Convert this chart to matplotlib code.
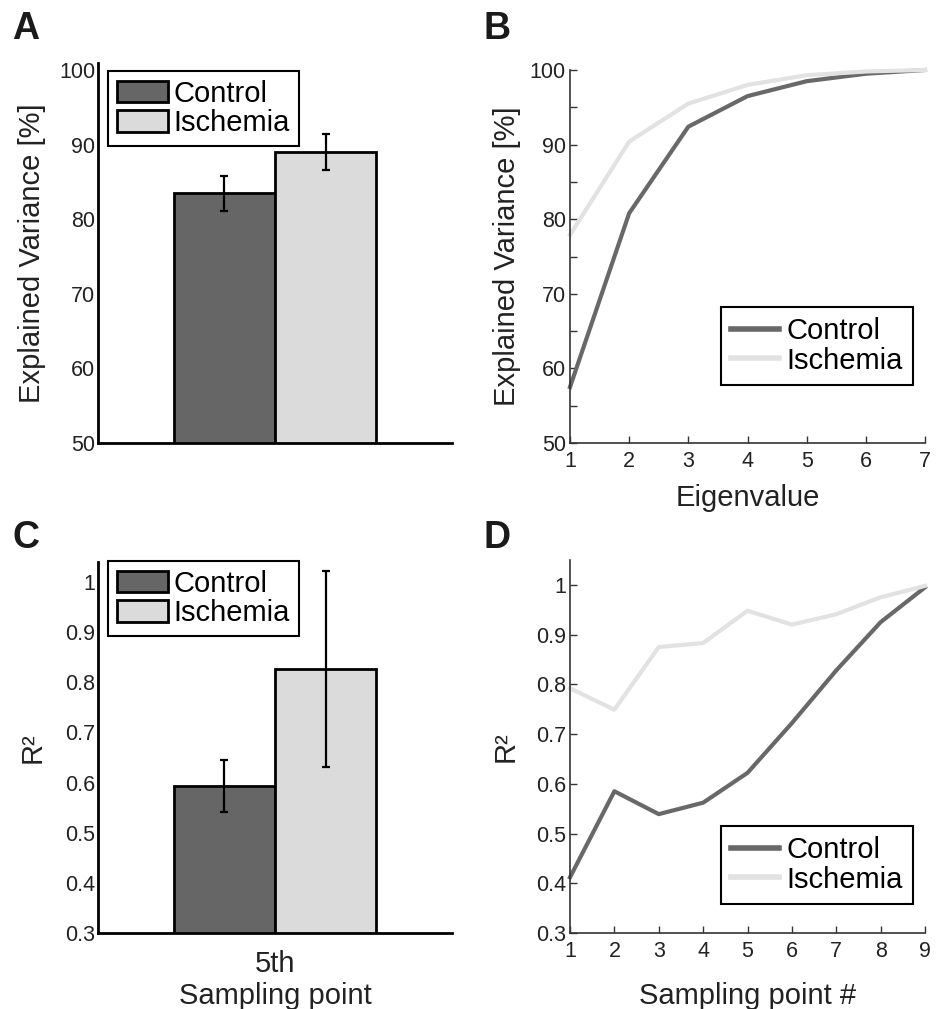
import matplotlib.pyplot as plt
import numpy as np
from matplotlib.ticker import MultipleLocator

plt.rcParams['font.family'] = ['Liberation Sans', 'DejaVu Sans']

groups = ['Control', 'Ischemia']
bar_colors = ['#666666', '#dbdbdb']
line_colors = ['#686868', '#e2e2e2']

# A: explained variance, mean and error
var_mean = [83.5, 89.0]
var_err = [2.35, 2.45]

# B: cumulative explained variance per eigenvalue
eigen = [1, 2, 3, 4, 5, 6, 7]
var_control = [57.5, 80.8, 92.4, 96.5, 98.5, 99.5, 100.0]
var_isch = [77.9, 90.4, 95.5, 98.0, 99.3, 99.8, 100.0]

# C: R^2 at the 5th sampling point
r2_point = ['5th']
r2_mean = [0.594, 0.827]
r2_err = [0.052, 0.196]

# D: R^2 per sampling point
samp = [1, 2, 3, 4, 5, 6, 7, 8, 9]
r2_control = [0.412, 0.585, 0.539, 0.562, 0.622, 0.722, 0.828, 0.925, 0.995]
r2_isch = [0.792, 0.749, 0.875, 0.883, 0.948, 0.920, 0.941, 0.975, 0.998]

txt = '#222222'
W, H = 936, 1009

fig = plt.figure(figsize=(W / 100, H / 100), dpi=100)


def px_axes(left, top, right, bottom):
    return fig.add_axes([left / W, 1 - bottom / H, (right - left) / W, (bottom - top) / H])


axA = px_axes(98, 62.5, 452, 443)
axB = px_axes(570, 70, 925, 443)
axC = px_axes(98, 562, 452, 933)
axD = px_axes(570, 560, 925, 933)


def bar_panel(ax, means, errs, ylim, yticks, yticklabels, leg_xy):
    w = 0.286
    xs = [1 - w / 2, 1 + w / 2]
    for x, m, e, c, g in zip(xs, means, errs, bar_colors, groups):
        ax.bar(x, m, width=w, color=c, edgecolor='black', lw=2, label=g)
        ax.errorbar(x, m, yerr=e, color='black', lw=1.6, capsize=3, capthick=1.6)
    ax.set_xlim(0.5, 1.5)
    ax.set_ylim(*ylim)
    ax.set_yticks(yticks, yticklabels)
    for s in ['top', 'right']:
        ax.spines[s].set_visible(False)
    for s in ['left', 'bottom']:
        ax.spines[s].set_linewidth(2)
    ax.tick_params(length=0, labelsize=15.5, labelcolor=txt, pad=2)
    leg = ax.legend(loc='upper left', bbox_to_anchor=leg_xy, bbox_transform=fig.transFigure,
                    borderaxespad=0, fontsize=21, fancybox=False, framealpha=1,
                    edgecolor='black', handlelength=1.75, handleheight=0.75,
                    handletextpad=0.2, borderpad=0.3, labelspacing=0.05)
    leg.get_frame().set_linewidth(1.5)


def line_panel(ax, xs, ys_c, ys_i, ylim, yticks, yticklabels, leg_xy):
    ax.plot(xs, ys_c, color=line_colors[0], lw=3, label=groups[0], clip_on=False)
    ax.plot(xs, ys_i, color=line_colors[1], lw=3, label=groups[1], clip_on=False)
    ax.set_xlim(xs[0], xs[-1])
    ax.set_ylim(*ylim)
    ax.set_xticks(xs)
    ax.set_yticks(yticks, yticklabels)
    for s in ['top', 'right']:
        ax.spines[s].set_visible(False)
    for s in ['left', 'bottom']:
        ax.spines[s].set_linewidth(1.2)
        ax.spines[s].set_color('#333333')
    ax.tick_params(which='both', direction='in', length=5, width=1, color='#333333',
                   labelsize=15.5, labelcolor=txt)
    ax.tick_params(axis='y', pad=3)
    ax.tick_params(axis='x', pad=6)
    leg = ax.legend(loc='upper left', bbox_to_anchor=leg_xy, bbox_transform=fig.transFigure,
                    borderaxespad=0, fontsize=21, fancybox=False, framealpha=1,
                    edgecolor='black', handlelength=1.65, handletextpad=0.25,
                    borderpad=0.35, labelspacing=0.05)
    leg.get_frame().set_linewidth(1.5)
    for ln in leg.get_lines():
        ln.set_linewidth(4)


# A
bar_panel(axA, var_mean, var_err, (50, 101), [50, 60, 70, 80, 90, 100],
          ['50', '60', '70', '80', '90', '100'], (108 / W, 1 - 71 / H))
axA.set_xticks([])
axA.set_ylabel('Explained Variance [%]', fontsize=21, color=txt, va='center')
axA.yaxis.set_label_coords(-0.186, 0.5)

# B
line_panel(axB, eigen, var_control, var_isch, (50, 100), [50, 60, 70, 80, 90, 100],
           ['50', '60', '70', '80', '90', '100'], (721 / W, 1 - 307 / H))
axB.yaxis.set_minor_locator(MultipleLocator(5))
axB.set_ylabel('Explained Variance [%]', fontsize=21, color=txt, va='center')
axB.yaxis.set_label_coords(-0.177, 0.5)
axB.set_xlabel('Eigenvalue', fontsize=21, color=txt, va='baseline')
axB.xaxis.set_label_coords(0.5, -0.169)

# C
r2_ticks = [0.3, 0.4, 0.5, 0.6, 0.7, 0.8, 0.9, 1.0]
r2_labels = ['0.3', '0.4', '0.5', '0.6', '0.7', '0.8', '0.9', '1']
bar_panel(axC, r2_mean, r2_err, (0.3, 1.04), r2_ticks, r2_labels, (108 / W, 1 - 561 / H))
axC.set_xticks([1], r2_point)
axC.tick_params(axis='x', labelsize=21, pad=12)
axC.set_ylabel('R²', fontsize=21, color=txt, va='center')
axC.yaxis.set_label_coords(-0.186, 0.5)
axC.set_xlabel('Sampling point', fontsize=21, color=txt, va='baseline')
axC.xaxis.set_label_coords(0.5, -0.191)

# D
line_panel(axD, samp, r2_control, r2_isch, (0.3, 1.05), r2_ticks, r2_labels,
           (721 / W, 1 - 826 / H))
axD.set_ylabel('R²', fontsize=21, color=txt, va='center')
axD.yaxis.set_label_coords(-0.18, 0.5)
axD.set_xlabel('Sampling point #', fontsize=21, color=txt, va='baseline')
axD.xaxis.set_label_coords(0.5, -0.190)

# panel letters
for letter, x, y in [('A', 12, 39), ('B', 483, 39), ('C', 12, 548), ('D', 483, 548)]:
    fig.text(x / W, 1 - y / H, letter, fontsize=27, fontweight='bold', color='#1a1a1a',
             ha='left', va='baseline')

fig.savefig('out.png', dpi=100)
